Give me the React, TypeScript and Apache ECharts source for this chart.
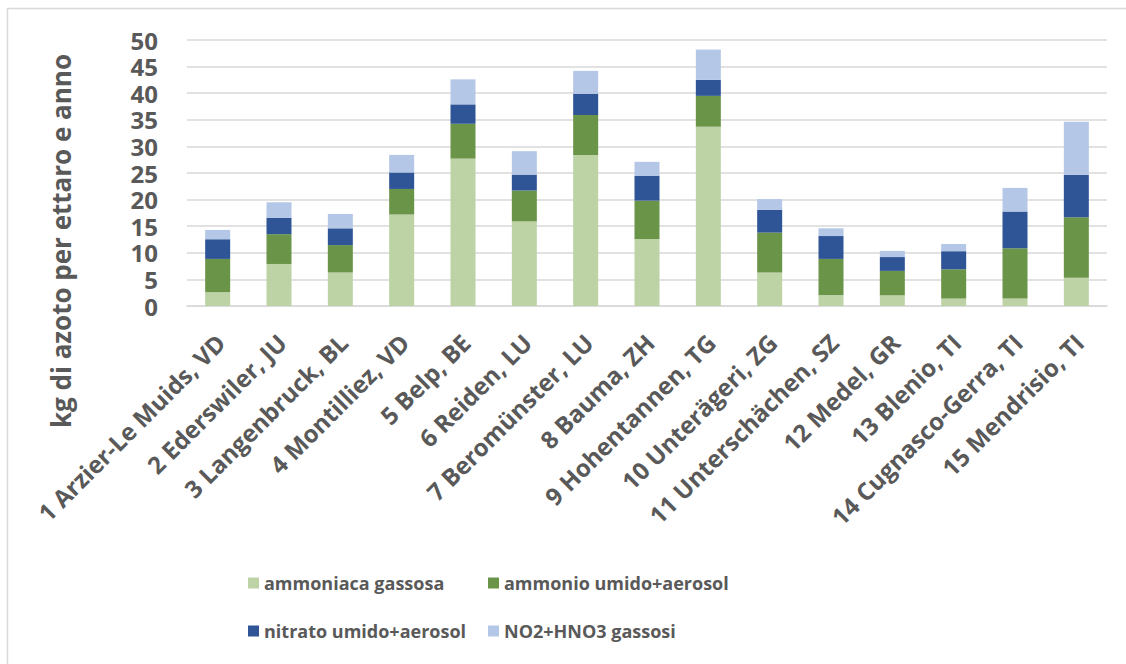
import React, { useEffect, useRef } from "react";
import * as echarts from "echarts";

const categories = [
  "1 Arzier-Le Muids, VD",
  "2 Ederswiler, JU",
  "3 Langenbruck, BL",
  "4 Montilliez, VD",
  "5 Belp, BE",
  "6 Reiden, LU",
  "7 Beromünster, LU",
  "8 Bauma, ZH",
  "9 Hohentannen, TG",
  "10 Unterägeri, ZG",
  "11 Unterschächen, SZ",
  "12 Medel, GR",
  "13 Blenio, TI",
  "14 Cugnasco-Gerra, TI",
  "15 Mendrisio, TI",
];

const seriesNames = [
  "ammoniaca gassosa",
  "ammonio umido+aerosol",
  "nitrato umido+aerosol",
  "NO2+HNO3 gassosi",
];

const ammoniacaGassosa = [2.6, 7.9, 6.3, 17.2, 27.7, 15.9, 28.4, 12.6, 33.7, 6.3, 2.0, 2.0, 1.4, 1.4, 5.3];
const ammonioUmido = [6.25, 5.6, 5.15, 4.8, 6.55, 5.8, 7.5, 7.2, 5.8, 7.5, 6.85, 4.6, 5.5, 9.45, 11.4];
const nitratoUmido = [3.7, 3.05, 3.15, 3.1, 3.65, 3.0, 4.0, 4.7, 3.0, 4.3, 4.3, 2.6, 3.4, 6.9, 7.95];
const no2Hno3 = [1.75, 2.95, 2.7, 3.3, 4.7, 4.4, 4.3, 2.6, 5.7, 2.0, 1.45, 1.15, 1.35, 4.45, 10.0];

const yTitle = "kg di azoto per ettaro e anno";
const colors = ["#BDD3A6", "#6A9447", "#2F5597", "#B4C7E7"];
const FONT = "'Open Sans', sans-serif";
const TEXT = "#595959";

export default function App() {
  const ref = useRef<HTMLDivElement>(null);
  useEffect(() => {
    if (!ref.current) return;
    const chart = echarts.init(ref.current, null, { renderer: "svg" });
    const values = [ammoniacaGassosa, ammonioUmido, nitratoUmido, no2Hno3];
    const legendText = {
      fontSize: 18,
      fontWeight: "bold" as const,
      color: TEXT,
      fontFamily: FONT,
      lineHeight: 24,
    };
    chart.setOption({
      animation: false,
      backgroundColor: "#ffffff",
      grid: { left: 187, right: 19, top: 40, bottom: 358, containLabel: false },
      legend: [
        {
          data: [seriesNames[0], seriesNames[2]],
          orient: "vertical",
          left: 243,
          top: 566,
          itemWidth: 11,
          itemHeight: 11,
          itemGap: 24,
          icon: "rect",
          selectedMode: false,
          textStyle: legendText,
        },
        {
          data: [seriesNames[1], seriesNames[3]],
          orient: "vertical",
          left: 483,
          top: 566,
          itemWidth: 11,
          itemHeight: 11,
          itemGap: 24,
          icon: "rect",
          selectedMode: false,
          textStyle: legendText,
        },
      ],
      xAxis: {
        type: "category",
        data: categories,
        axisLine: { show: true, lineStyle: { color: "#D9D9D9", width: 1.5 } },
        axisTick: { show: false },
        axisLabel: {
          rotate: 45,
          interval: 0,
          margin: 35,
          padding: [0, -4, 0, 0],
          fontSize: 24,
          fontWeight: "bold",
          color: TEXT,
          fontFamily: FONT,
        },
      },
      yAxis: {
        type: "value",
        min: 0,
        max: 50,
        interval: 5,
        axisLine: { show: false },
        axisTick: { show: false },
        splitLine: { lineStyle: { color: "#D9D9D9", width: 1.5 } },
        axisLabel: {
          margin: 29,
          fontSize: 24,
          fontWeight: "bold",
          color: TEXT,
          fontFamily: FONT,
        },
      },
      graphic: [
        {
          type: "rect",
          z: -1,
          shape: { x: 7.5, y: 8.5, width: 1200, height: 700 },
          style: { fill: "none", stroke: "#D9D9D9", lineWidth: 1.5 },
        },
        {
          type: "text",
          x: 61,
          y: 241,
          rotation: Math.PI / 2,
          style: {
            text: yTitle,
            fontSize: 26,
            fontWeight: "bold",
            fill: TEXT,
            fontFamily: FONT,
            align: "center",
            verticalAlign: "middle",
          },
        },
      ],
      series: seriesNames.map((name, i) => ({
        name,
        type: "bar",
        stack: "total",
        barWidth: 25,
        data: values[i],
        itemStyle: { color: colors[i] },
      })),
    });
    return () => chart.dispose();
  }, []);
  return (
    <div
      ref={ref}
      style={{ position: "absolute", left: 0, top: 0, width: 1126, height: 664 }}
    />
  );
}
